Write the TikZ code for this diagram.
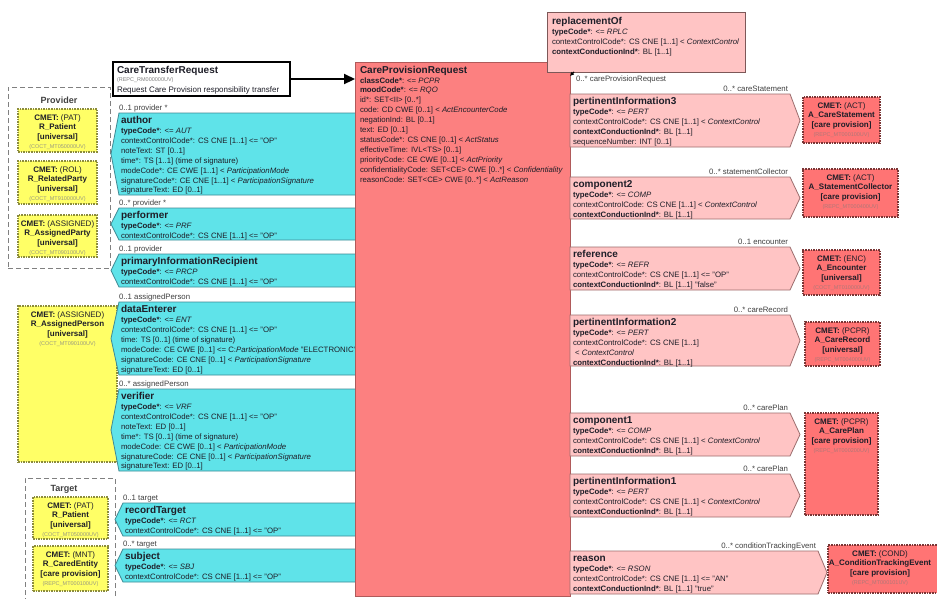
\documentclass[tikz,border=0pt]{standalone}
\usepackage{fontspec}
\setmainfont{Liberation Sans}
\usetikzlibrary{arrows.meta}

\definecolor{cyanfill}{HTML}{5FE3E9}
\definecolor{cyanline}{HTML}{3F8A94}
\definecolor{cprfill}{HTML}{FC8080}
\definecolor{cprline}{HTML}{B05A5A}
\definecolor{pinkfill}{HTML}{FFC4C4}
\definecolor{pinkline}{HTML}{9C6E6E}
\definecolor{cmetredfill}{HTML}{FF7474}
\definecolor{cmetredline}{HTML}{7A3535}
\definecolor{yelfill}{HTML}{FFFF66}
\definecolor{yelline}{HTML}{8C8C3C}
\definecolor{grpline}{HTML}{808080}
\definecolor{txt}{HTML}{1E1E28}
\definecolor{lbltxt}{HTML}{404040}
\definecolor{idgrey}{HTML}{9A9A80}
\definecolor{idred}{HTML}{B07878}

\newcommand\attrfont{\fontsize{7.8}{9.9}\selectfont}
\newcommand\ttlfont{\fontsize{10}{12}\selectfont\bfseries}
\newcommand\lblfont{\fontsize{7.8}{9}\selectfont}
\newcommand\cmetfont{\fontsize{8}{9.5}\selectfont}
\newcommand\idfont{\fontsize{5.5}{6.5}\selectfont}
\newcommand\myrows[1]{\begin{tabular}[t]{@{}l@{}}#1\end{tabular}}
\newcommand\mycrows[1]{\begin{tabular}[t]{@{}c@{}}#1\end{tabular}}

\newcommand\mytc[1]{\textbf{typeCode*}: <= \textit{#1}}
\newcommand\myccop{contextControlCode*: CS CNE [1..1] <= "OP"}
\newcommand\myccctl{contextControlCode*: CS CNE [1..1] < \textit{ContextControl}}
\newcommand\mycci{\textbf{contextConductionInd*}: BL [1..1]}

\tikzset{
  attr/.style={anchor=base west, font=\attrfont, text=txt},
  ttl/.style={anchor=base west, font=\ttlfont, text=txt},
  lbl/.style={font=\lblfont, text=lbltxt},
  partshape/.style={fill=cyanfill, draw=cyanline, line width=0.8pt},
  relshape/.style={fill=pinkfill, draw=pinkline, line width=0.8pt},
  cprbox/.style={fill=cprfill, draw=cprline, line width=0.9pt},
  repbox/.style={fill=pinkfill, draw=pinkline!80!black, line width=0.9pt},
  cmetr/.style={fill=cmetredfill, draw=cmetredline, line width=1.2pt, dash pattern=on 1.6pt off 1pt},
  cmety/.style={fill=yelfill, draw=yelline, line width=1.2pt, dash pattern=on 1.6pt off 1pt},
  grp/.style={draw=grpline, line width=0.9pt, dash pattern=on 5pt off 3pt},
  grptitle/.style={anchor=base, font=\fontsize{9}{11}\selectfont\bfseries, text=lbltxt},
  ctrbox/.style={fill=white, draw=black, line width=2pt},
}

% participation (cyan) box: name, point x, top, bottom, title, rows, label
\newcommand\mkpart[7]{%
  \path[partshape] (#2+8,#3) -- (356,#3) -- (356,#4) -- (#2+8,#4) -- (#2,{(#3+#4)/2}) -- cycle;
  \node[lbl, anchor=base west] (#1-lbl) at (#2+8,#3-3) {#7};
  \node[ttl] (#1) at (#2+10,#3+10.5) {#5};
  \node[attr] (#1-att) at (#2+10,#3+20.5) {\myrows{#6}};
}
% act relationship (pink) box: name, top, bottom, corner x, point x, title, rows, label
\newcommand\mkrel[8]{%
  \path[relshape] (570,#2) -- (#4,#2) -- (#5,{(#2+#3)/2}) -- (#4,#3) -- (570,#3) -- cycle;
  \node[lbl, anchor=base east] (#1-lbl) at (#4-2,#2-3) {#8};
  \node[ttl] (#1) at (573,#2+10.5) {#6};
  \node[attr] (#1-att) at (573,#2+20.5) {\myrows{#7}};
}
% CMET box: name, style, x, y, width, height, text centre x, rows
\newcommand\mkcmet[8]{%
  \node[#2, anchor=north west, minimum width=#5pt, minimum height=#6pt] (#1) at (#3,#4) {};
  \node[anchor=base, font=\cmetfont, text=txt] (#1-t) at (#7,#4+11) {\mycrows{#8}};
}

\begin{document}
\begin{tikzpicture}[x=1pt,y=-1pt, every node/.style={inner sep=0pt,outer sep=0pt}]
\useasboundingbox (0,0) rectangle (937,598);
\fill[white] (0,0) rectangle (937,598);

% ---------- group boxes ----------
\node[grp, anchor=north west, minimum width=102pt, minimum height=181pt] (provider) at (8,87) {};
\node[grptitle] (provider-t) at (59,103) {Provider};
\node[grp, anchor=north west, minimum width=90pt, minimum height=140pt] (target) at (25,478) {};
\node[grptitle] (target-t) at (64,491) {Target};

% ---------- yellow CMETs ----------
\mkcmet{patient1}{cmety}{18}{109}{79}{43}{57.5}{\textbf{CMET:} (PAT)\\ \textbf{R\_Patient}\\ \textbf{{[universal]}}\\ {\idfont\color{idgrey}(COCT\_MT050000UV)}}
\mkcmet{relparty}{cmety}{18}{161}{79}{43}{57.5}{\textbf{CMET:} (ROL)\\ \textbf{R\_RelatedParty}\\ \textbf{{[universal]}}\\ {\idfont\color{idgrey}(COCT\_MT910000UV)}}
\mkcmet{asgparty}{cmety}{18}{215}{79}{42}{57.5}{\textbf{CMET:} (ASSIGNED)\\ \textbf{R\_AssignedParty}\\ \textbf{{[universal]}}\\ {\idfont\color{idgrey}(COCT\_MT090100UV)}}
\mkcmet{asgperson}{cmety}{18}{306}{99}{156}{67.5}{\textbf{CMET:} (ASSIGNED)\\ \textbf{R\_AssignedPerson}\\ \textbf{{[universal]}}\\ {\idfont\color{idgrey}(COCT\_MT090100UV)}}
\mkcmet{patient2}{cmety}{33}{497}{75}{42}{70.5}{\textbf{CMET:} (PAT)\\ \textbf{R\_Patient}\\ \textbf{{[universal]}}\\ {\idfont\color{idgrey}(COCT\_MT050000UV)}}
\mkcmet{caredentity}{cmety}{33}{546}{75}{45}{70.5}{\textbf{CMET:} (MNT)\\ \textbf{R\_CaredEntity}\\ \textbf{{[care provision]}}\\ {\idfont\color{idgrey}(REPC\_MT000100UV)}}

% ---------- participations (cyan) ----------
\mkpart{author}{111}{113}{195}{author}{\mytc{AUT}\\ \myccop\\ noteText: ST [0..1]\\ time*: TS [1..1] (time of signature)\\ modeCode*: CE CWE [1..1] < \textit{ParticipationMode}\\ signatureCode*: CE CNE [1..1] < \textit{ParticipationSignature}\\ signatureText: ED [0..1]}{0..1 provider *}
\mkpart{performer}{111}{208}{240}{performer}{\mytc{PRF}\\ \myccop}{0..* provider *}
\mkpart{pir}{111}{254}{287}{primaryInformationRecipient}{\mytc{PRCP}\\ \myccop}{0..1 provider}
\mkpart{dataenterer}{111}{302}{375}{dataEnterer}{\mytc{ENT}\\ \myccop\\ time: TS [0..1] (time of signature)\\ modeCode: CE CWE [0..1] <= C:\textit{ParticipationMode} "ELECTRONIC"\\ signatureCode: CE CNE [0..1] < \textit{ParticipationSignature}\\ signatureText: ED [0..1]}{0..1 assignedPerson}
\mkpart{verifier}{111}{389}{471}{verifier}{\mytc{VRF}\\ \myccop\\ noteText: ED [0..1]\\ time*: TS [0..1] (time of signature)\\ modeCode: CE CWE [0..1] < \textit{ParticipationMode}\\ signatureCode: CE CNE [0..1] < \textit{ParticipationSignature}\\ signatureText: ED [0..1]}{0..* assignedPerson}
\mkpart{recordtarget}{115}{503}{536}{recordTarget}{\mytc{RCT}\\ \myccop}{0..1 target}
\mkpart{subject}{115}{549}{582}{subject}{\mytc{SBJ}\\ \myccop}{0..* target}

% ---------- CareTransferRequest ----------
\node[ctrbox, anchor=north west, minimum width=177pt, minimum height=34pt] (ctr) at (113,62) {};
\node[ttl] (ctr-t) at (117,73) {CareTransferRequest};
\node[anchor=base west, font=\idfont, text=gray] (ctr-id) at (117,81) {(REPC\_RM000000UV)};
\node[anchor=base west, font=\fontsize{8}{9}\selectfont, text=txt] (ctr-d) at (117,92) {Request Care Provision responsibility transfer};

% ---------- CareProvisionRequest ----------
\node[cprbox, anchor=north west, minimum width=215pt, minimum height=534pt] (cpr) at (355,62) {};
\node[ttl] (cpr-t) at (360,73) {CareProvisionRequest};
\node[attr] (cpr-a) at (360,83) {\myrows{\textbf{classCode*}: <= \textit{PCPR}\\ \textbf{moodCode*}: <= \textit{RQO}\\ id*: SET<II> [0..*]\\ code: CD CWE [0..1] < \textit{ActEncounterCode}\\ negationInd: BL [0..1]\\ text: ED [0..1]\\ statusCode*: CS CNE [0..1] < \textit{ActStatus}\\ effectiveTime: IVL<TS> [0..1]\\ priorityCode: CE CWE [0..1] < \textit{ActPriority}\\ confidentialityCode: SET<CE> CWE [0..*] < \textit{Confidentiality}\\ reasonCode: SET<CE> CWE [0..*] < \textit{ActReason}}};

\draw[line width=2.2pt, -{Triangle[length=11pt,width=10pt]}] (ctr.east) -- (ctr.east -| cpr.west);

% ---------- act relationships (pink) ----------
\mkrel{pert3}{94}{147}{790}{800}{pertinentInformation3}{\mytc{PERT}\\ \myccctl\\ \mycci\\ sequenceNumber: INT [0..1]}{0..* careStatement}
\mkrel{comp2}{177}{219}{790}{800}{component2}{\mytc{COMP}\\ contextControlCode: CS CNE [1..1] < \textit{ContextControl}\\ \mycci}{0..* statementCollector}
\mkrel{reference}{247}{290}{790}{800}{reference}{\mytc{REFR}\\ \myccop\\ \textbf{contextConductionInd*}: BL [1..1] "false"}{0..1 encounter}
\mkrel{pert2}{315}{366}{790}{800}{pertinentInformation2}{\mytc{PERT}\\ contextControlCode*: CS CNE [1..1]\\ \ < \textit{ContextControl}\\ \mycci}{0..* careRecord}
\mkrel{comp1}{413}{456}{790}{800}{component1}{\mytc{COMP}\\ \myccctl\\ \mycci}{0..* carePlan}
\mkrel{pert1}{474}{517}{790}{800}{pertinentInformation1}{\mytc{PERT}\\ \myccctl\\ \mycci}{0..* carePlan}
\mkrel{reason}{551}{594}{818}{827}{reason}{\mytc{RSON}\\ contextControlCode*: CS CNE [1..1] <= "AN"\\ \textbf{contextConductionInd*}: BL [1..1] "true"}{0..* conditionTrackingEvent}

% ---------- replacementOf ----------
\node[repbox, anchor=north west, minimum width=198pt, minimum height=60pt] (rep) at (547,12) {};
\node[ttl] (rep-t) at (552,24) {replacementOf};
\node[attr] (rep-a) at (552,34.5) {\myrows{\mytc{RPLC}\\ \myccctl\\ \mycci}};
\draw[line width=1.2pt, -{Latex[length=4pt,width=4pt]}] ([xshift=27pt]rep.south west) -- ([yshift=-14pt]cpr.north east);
\node[lbl, anchor=base west] (rep-lbl) at (576,81) {0..* careProvisionRequest};

% ---------- red CMETs ----------
\mkcmet{carestatement}{cmetr}{803}{97}{77}{46}{841.5}{\textbf{CMET:} (ACT)\\ \textbf{A\_CareStatement}\\ \textbf{{[care provision]}}\\ {\idfont\color{idred}(REPC\_MT000100UV)}}
\mkcmet{stmtcollector}{cmetr}{803}{169}{95}{48}{850.5}{\textbf{CMET:} (ACT)\\ \textbf{A\_StatementCollector}\\ \textbf{{[care provision]}}\\ {\idfont\color{idred}(REPC\_MT000400UV)}}
\mkcmet{encounter}{cmetr}{803}{250}{77}{45}{841.5}{\textbf{CMET:} (ENC)\\ \textbf{A\_Encounter}\\ \textbf{{[universal]}}\\ {\idfont\color{idred}(COCT\_MT010000UV)}}
\mkcmet{carerecord}{cmetr}{805}{322}{75}{44}{842.5}{\textbf{CMET:} (PCPR)\\ \textbf{A\_CareRecord}\\ \textbf{{[universal]}}\\ {\idfont\color{idred}(REPC\_MT004000UV)}}
\mkcmet{careplan}{cmetr}{805}{413}{73}{102}{841.5}{\textbf{CMET:} (PCPR)\\ \textbf{A\_CarePlan}\\ \textbf{{[care provision]}}\\ {\idfont\color{idred}(REPC\_MT000200UV)}}
\mkcmet{condtrack}{cmetr}{828}{545}{120}{48}{880}{\textbf{CMET:} (COND)\\ \textbf{A\_ConditionTrackingEvent}\\ \textbf{{[care provision]}}\\ {\idfont\color{idred}(REPC\_MT000101UV)}}
\end{tikzpicture}
\end{document}
